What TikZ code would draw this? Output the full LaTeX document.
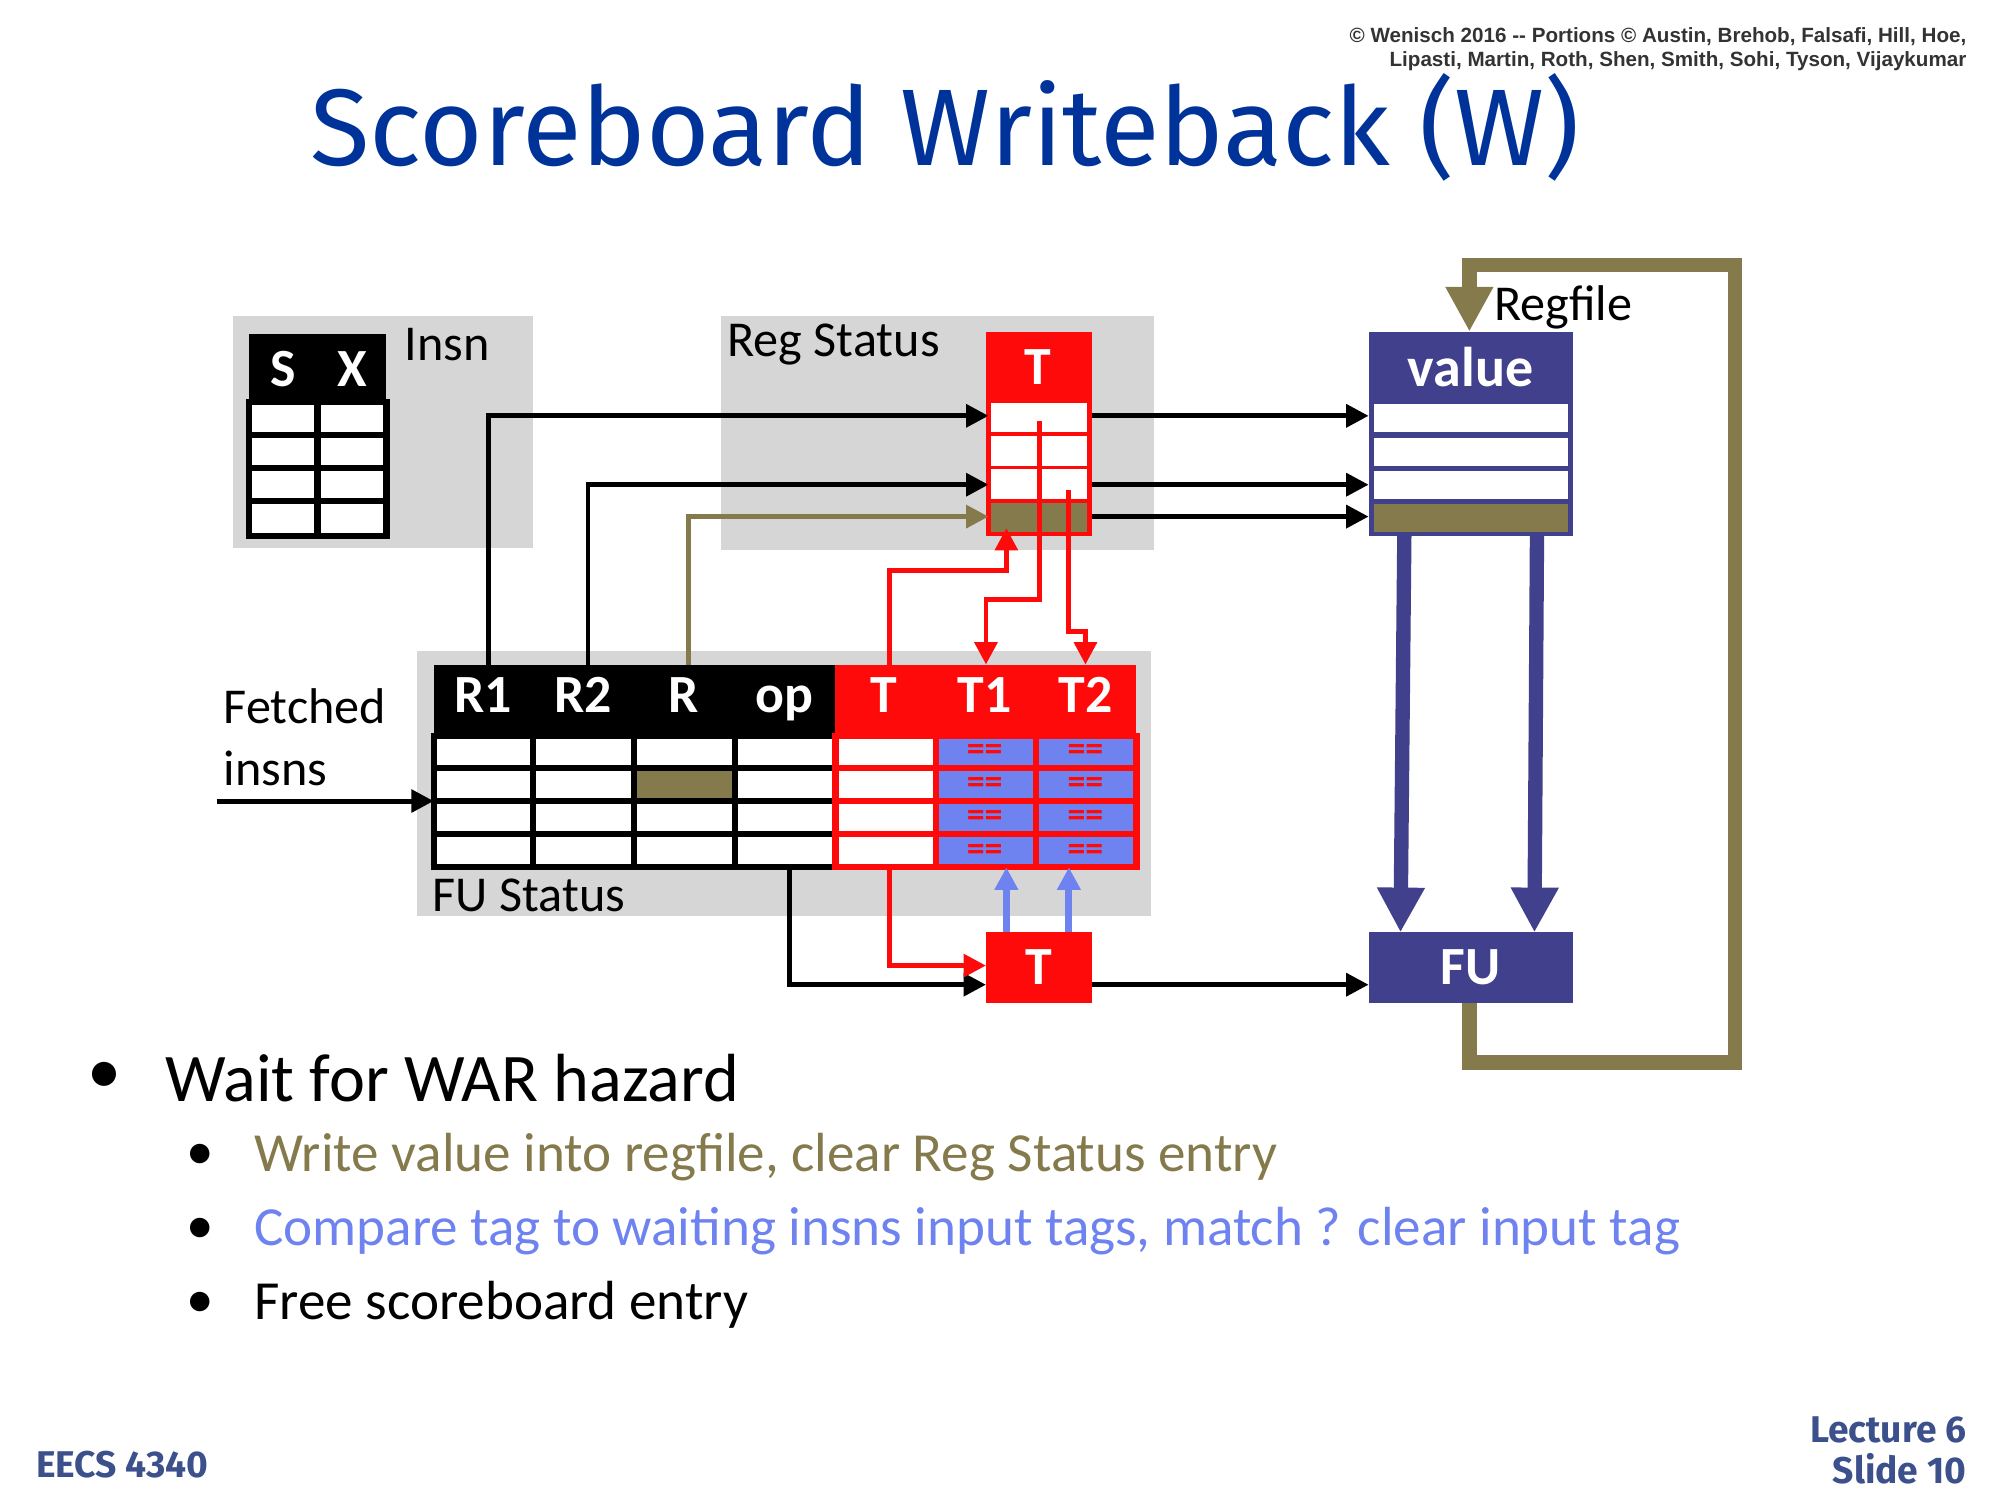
\documentclass[tikz,border=0pt]{standalone}
\usepackage{fontspec}
\setmainfont{Carlito}
\newfontfamily\arialf{Liberation Sans}
\newfontfamily\titlef{Fira Sans}
\usetikzlibrary{arrows.meta}
\definecolor{olive}{RGB}{133,122,76}
\definecolor{rred}{RGB}{255,10,10}
\definecolor{dblue}{RGB}{64,64,140}
\definecolor{lblue}{RGB}{110,130,240}
\definecolor{gbg}{RGB}{214,214,214}
\definecolor{tblue}{RGB}{0,51,153}
\definecolor{eblue}{RGB}{60,80,140}
\begin{document}
\begin{tikzpicture}[x=0.1mm,y=-0.1mm,
  wire/.style={line width=3.2pt,-{Triangle[length=10pt,width=10pt]}},
  bk/.style={line width=1.1pt,-{Triangle[length=5pt,width=5pt]}},
  rw/.style={rred,line width=1.1pt,-{Triangle[length=5pt,width=5pt]}},
  hdr/.style={font=\bfseries\fontsize{12}{14}\selectfont,text=white},
  lbl/.style={font=\fontsize{11.2}{13}\selectfont,anchor=west},
  eq/.style={text=rred,inner sep=0pt,font=\bfseries\fontsize{8}{8}\selectfont}]
\useasboundingbox (0,0) rectangle (1568,1176);
% header texts
\node[anchor=north east,align=right,font=\arialf\bfseries\fontsize{4.6}{5.5}\selectfont,text=black!80] (cp) at (1554,9) {© Wenisch 2016 -- Portions © Austin, Brehob, Falsafi, Hill, Hoe,\\ Lipasti, Martin, Roth, Shen, Smith, Sohi, Tyson, Vijaykumar};
\node[font=\titlef\fontsize{24.3}{28}\selectfont,text=tblue] (title) at (741,100) {Scoreboard Writeback (W)};
% grey backgrounds
\fill[gbg] (183,248) rectangle (418,430);
\fill[gbg] (565,248) rectangle (905,431);
\fill[gbg] (327,510) rectangle (902,718);
\node[lbl] (insnl) at (305,270) {Insn};
\node[lbl] (rsl) at (558,270) {Reg Status};
\node[lbl] (fusl) at (327,702) {FU Status};
\node[lbl] (rfl) at (1159,241) {Regfile};
\node[lbl,align=left] (fet) at (163,578) {Fetched\\[1pt]insns};
% Insn table
\fill[black] (195,262) rectangle (303,315);
\node[hdr] (S) at (222,289) {S};
\node[hdr] (X) at (276,289) {X};
\draw[line width=1.4pt,fill=white] (195,315) rectangle (303,420);
\foreach \y in {341,367,393} \draw[line width=1.4pt] (195,\y) -- (303,\y);
\draw[line width=1.4pt] (249,315) -- (249,420);
% Reg status T table
\fill[rred] (773,260) rectangle (856,420);
\node[hdr] (RT) at (814,288) {T};
\foreach \y in {316,342,368} \fill[white] (777,\y) rectangle (852,\y+23);
\fill[olive] (777,394) rectangle (852,417);
% Regfile
\fill[dblue] (1073,260) rectangle (1233,420);
\node[hdr,font=\bfseries\fontsize{12.5}{14}\selectfont] (val) at (1153,288) {value};
\foreach \y in {317,343,369} \fill[white] (1077,\y) rectangle (1229,\y+22);
\fill[olive] (1077,395) rectangle (1229,417);
% FU status table
\fill[black] (340,521) rectangle (655,577);
\fill[rred] (655,521) rectangle (891,577);
\foreach \n/\x in {R1/379,R2/457,R/536,op/615} \node[hdr] (h\n) at (\x,549) {\strut\n};
\foreach \n/\x in {T/693,T1/772,T2/851} \node[hdr] (h\n) at (\x,549) {\strut\n};
\draw[line width=1.4pt,fill=white] (340,577) rectangle (655,680);
\fill[olive] (499,604) rectangle (574,626);
\foreach \y in {602,628,654} \draw[line width=1.4pt] (340,\y) -- (655,\y);
\foreach \x in {418,497,576} \draw[line width=1.4pt] (\x,577) -- (\x,680);
\draw[rred,line width=1.4pt,fill=white] (655,577) rectangle (734,680);
\fill[lblue] (734,577) rectangle (891,680);
\draw[rred,line width=1.4pt] (655,577) rectangle (891,680);
\foreach \y in {602,628,654} \draw[rred,line width=1.4pt] (655,\y) -- (891,\y);
\draw[rred,line width=1.4pt] (734,577) -- (734,680) (812,577) -- (812,680);
\foreach \y in {590,616,642,668} {\node[eq] at (772,\y) {==}; \node[eq] at (851,\y) {==};}
% lower T and FU
\node[fill=rred,minimum width=83*0.1mm,minimum height=55*0.1mm,inner sep=0,hdr] (LT) at (814.5,758.5) {T};
\node[fill=dblue,minimum width=160*0.1mm,minimum height=55*0.1mm,inner sep=0,hdr] (FU) at (1153,758.5) {FU};
% coordinates
\coordinate (r1) at (383,521); \coordinate (r2) at (461,521); \coordinate (rr) at (540,521);
\coordinate (a1) at (775,326); \coordinate (a2) at (775,380); \coordinate (a3) at (775,405);
\coordinate (lt1) at (773,772); \coordinate (lt2) at (773,757); \coordinate (lt3) at (856,772); \coordinate (fu1) at (1073,772);
% black arrows
\draw[bk] (r1) |- (a1);
\draw[bk] (r2) |- (a2);
\draw[bk,olive] (rr) |- (a3);
\draw[bk] (170,628) -- (340,628);
\foreach \y in {326,380,405} \draw[bk] (856,\y) -- (1073,\y);
\draw[bk] (619,680) |- (lt1);
\draw[bk] (lt3) -- (fu1);
% red wires
\draw[rw] (697,521) -- (697,447) -- (789,447) -- (789,414);
\draw[rw] (815,330) -- (815,470) -- (773,470) -- (773,521);
\draw[rw] (838,384) -- (838,495) -- (851,495) -- (851,521);
\draw[rw] (697,680) |- (lt2);
% light blue
\draw[lblue,line width=1.6pt,-{Triangle[length=5pt,width=5pt]}] (789,731) -- (789,680);
\draw[lblue,line width=1.6pt,-{Triangle[length=5pt,width=5pt]}] (838,731) -- (838,680);
% thick blue
\draw[wire,dblue] (1101,420) -- (1098,731);
\draw[wire,dblue] (1205,420) -- (1203,731);
% olive loop
\draw[wire,olive] (1152,786) -- (1152,833) -- (1360,833) -- (1360,208) -- (1152,208) -- (1152,260);
% bullets
\node[font=\fontsize{15.2}{18}\selectfont] (b0) at (82,845) {•};
\node[anchor=west,font=\fontsize{15.2}{18}\selectfont] (b1) at (117,845) {Wait for WAR hazard};
\node[font=\fontsize{12.3}{14}\selectfont] (d1) at (157,907) {•};
\node[anchor=west,font=\fontsize{12.3}{14}\selectfont,text=olive] (s1) at (187,907) {Write value into regfile, clear Reg Status entry};
\node[font=\fontsize{12.3}{14}\selectfont] (d2) at (157,965) {•};
\node[anchor=west,font=\fontsize{12.3}{14}\selectfont,text=lblue] (s2) at (187,965) {Compare tag to waiting insns input tags, match ? clear input tag};
\node[font=\fontsize{12.3}{14}\selectfont] (d3) at (157,1023) {•};
\node[anchor=west,font=\fontsize{12.3}{14}\selectfont] (s3) at (187,1023) {Free scoreboard entry};
% footer
\node[anchor=west,font=\titlef\bfseries\fontsize{8.3}{10}\selectfont,text=eblue] (ee) at (16,1148) {EECS 4340};
\node[anchor=east,align=right,font=\titlef\bfseries\fontsize{8.3}{9}\selectfont,text=eblue] (lec) at (1554,1137) {Lecture 6\\Slide 10};
\end{tikzpicture}
\end{document}
